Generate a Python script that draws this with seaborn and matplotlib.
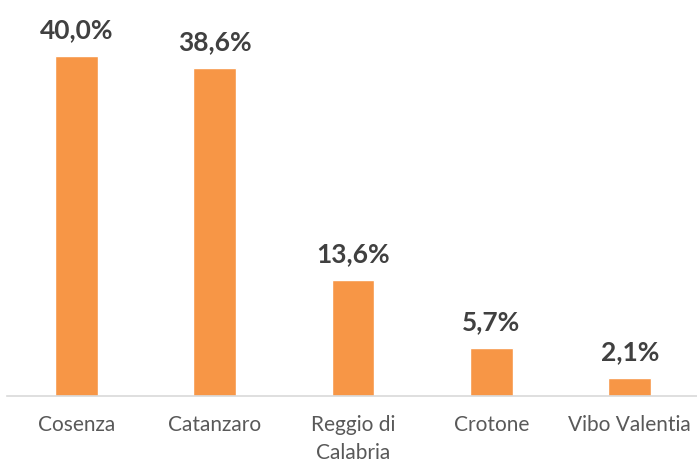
import matplotlib
matplotlib.use("Agg")
import matplotlib.pyplot as plt
import seaborn as sns
import pandas as pd

# dati
province = ["Cosenza", "Catanzaro", "Reggio di\nCalabria", "Crotone", "Vibo Valentia"]
quote = [40.0, 38.6, 13.6, 5.7, 2.1]
etichette = ["40,0%", "38,6%", "13,6%", "5,7%", "2,1%"]

df = pd.DataFrame({"provincia": province, "quota": quote})

sns.set_theme(style="white")
plt.rcParams["font.family"] = ["Lato", "DejaVu Sans"]

fig = plt.figure(figsize=(6.97, 4.65), dpi=100)
ax = fig.add_axes([7 / 697, 69 / 465, 692 / 697, 386 / 465])

sns.barplot(data=df, x="provincia", y="quota", color="#F79646", width=0.31,
            saturation=1, ax=ax)

ax.bar_label(ax.containers[0], labels=etichette, padding=10,
             fontsize=19, fontweight="bold", color="#404040")

ax.set_ylim(0, 386 / 8.5)
ax.set_xlim(-0.5, 4.5)
ax.set_xlabel("")
ax.set_ylabel("")
ax.set_yticks([])
ax.tick_params(axis="x", length=0, pad=14, labelsize=15, labelcolor="#595959")
for lbl in ax.get_xticklabels():
    lbl.set_linespacing(1.45)
for s in ["top", "right", "left"]:
    ax.spines[s].set_visible(False)
ax.spines["bottom"].set_color("#D9D9D9")
ax.spines["bottom"].set_linewidth(1.2)

fig.savefig("out.png", dpi=100)
